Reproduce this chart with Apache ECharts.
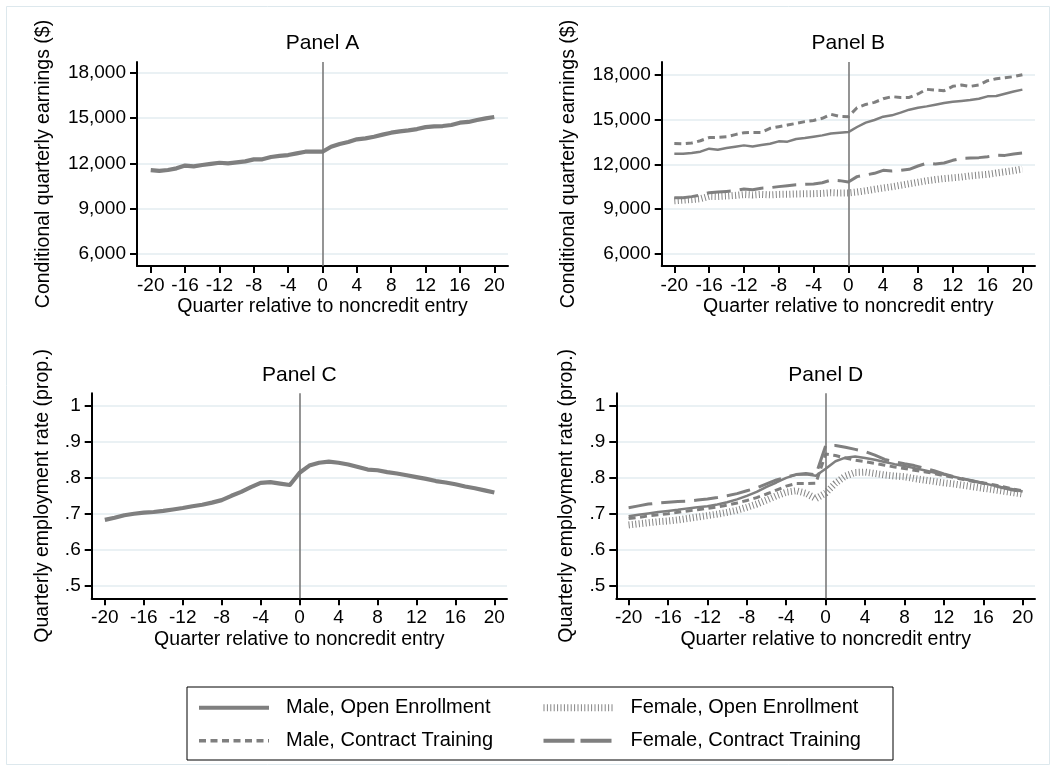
<!DOCTYPE html>
<html><head><meta charset="utf-8">
<script src="https://cdn.jsdelivr.net/npm/echarts@6/dist/echarts.min.js"></script>
<style>html,body{margin:0;padding:0;background:#fff}#c{width:1056px;height:771px}</style>
</head><body><div id="c"></div>
<script>
// ---------- data ----------
const quarters = [-20,-19,-18,-17,-16,-15,-14,-13,-12,-11,-10,-9,-8,-7,-6,-5,-4,-3,-2,-1,0,1,2,3,4,5,6,7,8,9,10,11,12,13,14,15,16,17,18,19,20];
const xTicks = [-20,-16,-12,-8,-4,0,4,8,12,16,20];
const earnTicks = [6000,9000,12000,15000,18000];
const empTicks = [0.5,0.6,0.7,0.8,0.9,1];
const seriesNames = ['Male, Open Enrollment','Male, Contract Training','Female, Open Enrollment','Female, Contract Training'];
const panelTitles = ['Panel A','Panel B','Panel C','Panel D'];

// Panel A: conditional quarterly earnings, all
const earnAll = [11550,11500,11560,11670,11850,11800,11890,11960,12040,12000,12070,12130,12265,12265,12420,12490,12550,12660,12770,12770,12770,
  13100,13280,13410,13590,13650,13760,13900,14030,14120,14180,14270,14400,14450,14470,14540,14690,14740,14870,14980,15070];
// Panel B
const earnMaleOpen = [12714,12714,12760,12850,13050,12980,13090,13180,13270,13200,13290,13380,13540,13520,13700,13760,13850,13940,14070,14120,14160,
  14500,14790,14970,15190,15280,15460,15660,15790,15880,15990,16100,16190,16240,16300,16390,16550,16570,16730,16880,17000];
const earnMaleContract = [13400,13380,13430,13580,13790,13810,13850,13990,14120,14140,14140,14410,14520,14630,14740,14860,14940,15080,15350,15210,15190,
  15790,16010,16150,16390,16530,16480,16480,16710,17020,16970,16930,17220,17310,17220,17310,17600,17730,17800,17870,18000];
const earnFemaleOpen = [9560,9600,9640,9700,9860,9850,9880,9920,9980,9950,9990,9960,9990,10000,10020,10030,10040,10060,10100,10080,10090,
  10150,10230,10330,10420,10500,10600,10700,10800,10900,10980,11050,11100,11150,11230,11280,11330,11420,11500,11580,11680];
const earnFemaleContract = [9770,9770,9840,9950,10100,10150,10190,10240,10350,10300,10400,10440,10510,10570,10640,10660,10680,10770,10950,10910,10820,
  11180,11290,11400,11600,11560,11600,11670,11890,12070,12020,12090,12270,12400,12420,12450,12510,12620,12600,12690,12760];
// Panel C: employment rate, all
const empAll = [0.683,0.689,0.696,0.700,0.703,0.705,0.708,0.712,0.716,0.721,0.725,0.731,0.738,0.750,0.761,0.774,0.786,0.788,0.784,0.780,0.814,
  0.834,0.842,0.845,0.842,0.837,0.830,0.823,0.821,0.816,0.812,0.807,0.802,0.797,0.791,0.787,0.782,0.776,0.771,0.765,0.759];
// Panel D
const empMaleOpen = [0.693,0.697,0.701,0.705,0.708,0.711,0.715,0.718,0.721,0.726,0.732,0.740,0.750,0.761,0.775,0.787,0.800,0.809,0.810,0.806,0.825,
  0.846,0.856,0.859,0.855,0.850,0.844,0.838,0.833,0.827,0.821,0.815,0.809,0.803,0.797,0.791,0.785,0.779,0.773,0.768,0.762];
const empMaleContract = [0.687,0.690,0.694,0.697,0.700,0.704,0.708,0.711,0.715,0.719,0.724,0.730,0.737,0.745,0.755,0.766,0.777,0.784,0.784,0.785,0.866,
  0.862,0.855,0.849,0.845,0.840,0.835,0.830,0.826,0.821,0.817,0.812,0.806,0.801,0.795,0.790,0.786,0.781,0.775,0.769,0.764];
const empFemaleOpen = [0.669,0.672,0.675,0.678,0.680,0.683,0.687,0.691,0.695,0.699,0.704,0.710,0.718,0.727,0.738,0.750,0.760,0.764,0.757,0.742,0.758,
  0.785,0.805,0.815,0.816,0.812,0.808,0.805,0.803,0.798,0.794,0.790,0.786,0.783,0.779,0.775,0.771,0.767,0.763,0.759,0.755];
const empFemaleContract = [0.717,0.722,0.727,0.730,0.732,0.734,0.735,0.738,0.741,0.745,0.750,0.756,0.764,0.772,0.783,0.794,0.802,0.809,0.812,0.808,0.889,
  0.890,0.885,0.879,0.873,0.863,0.851,0.845,0.839,0.834,0.827,0.820,0.811,0.803,0.797,0.791,0.785,0.779,0.772,0.766,0.761];

// ---------- styles ----------
const FONT = '"Liberation Sans", Arial, Helvetica, sans-serif';
const GRAY = '#7f7f7f';
const styles = {
  all:      {color: GRAY, width: 4.2, type: 'solid'},
  maleOpen: {color: GRAY, width: 2.5, type: 'solid'},
  maleCon:  {color: GRAY, width: 3, type: [7, 4.5], cap: 'butt'},
  femOpen:  {color: '#858585', width: 7, type: [1, 2.4], cap: 'butt'},
  femCon:   {color: GRAY, width: 3, type: [24, 9], cap: 'butt'}
};

const grids = [
  {left: 137,   top: 62,    width: 371, height: 204},
  {left: 661.7, top: 62,    width: 373.3, height: 204},
  {left: 91.7,  top: 393.3, width: 415.3, height: 205},
  {left: 616.3, top: 393.3, width: 418.7, height: 205}
];
const xRanges = [[-21.6, 21.6], [-21.45, 21.45], [-21.35, 21.3], [-21.25, 21.25]];
const yRanges = [[5206, 18708], [5197, 18850], [0.465, 1.035], [0.465, 1.035]];
const yNames = ['Conditional quarterly earnings ($)','Conditional quarterly earnings ($)','Quarterly employment rate (prop.)','Quarterly employment rate (prop.)'];
const yNameGaps = [83, 83, 39, 40];
const xName = 'Quarter relative to noncredit entry';

function fmtEarn(v){ return Math.round(v).toLocaleString('en-US'); }
function fmtEmp(v){ return v === 1 ? '1' : String(v).replace(/^0/, ''); }

const xAxes = grids.map((g, i) => ({
  type: 'value', gridIndex: i, min: xRanges[i][0], max: xRanges[i][1],
  name: xName, nameLocation: 'middle', nameGap: 31,
  nameTextStyle: {fontSize: 19.5, color: '#000', fontFamily: FONT},
  axisLine: {show: true, onZero: false, lineStyle: {color: '#000', width: 2}},
  axisTick: {show: true, length: 7, lineStyle: {color: '#000', width: 2}, customValues: xTicks},
  axisLabel: {show: true, margin: 10, fontSize: 19, color: '#000', fontFamily: FONT, customValues: xTicks,
              showMinLabel: true, showMaxLabel: true, hideOverlap: false},
  splitLine: {show: false}
}));
const yAxes = grids.map((g, i) => {
  const ticks = i < 2 ? earnTicks : empTicks;
  return {
    type: 'value', gridIndex: i, min: yRanges[i][0], max: yRanges[i][1],
    name: yNames[i], nameLocation: 'middle', nameGap: yNameGaps[i], nameRotate: 90,
    nameTextStyle: {fontSize: 19.5, color: '#000', fontFamily: FONT},
    axisLine: {show: true, onZero: false, lineStyle: {color: '#000', width: 2}},
    axisTick: {show: true, length: 7, lineStyle: {color: '#000', width: 2}, customValues: ticks},
    axisLabel: {show: true, margin: 11, fontSize: 19, color: '#000', fontFamily: FONT, customValues: ticks,
                formatter: i < 2 ? fmtEarn : fmtEmp, showMinLabel: true, showMaxLabel: true, hideOverlap: false},
    splitLine: {show: true, lineStyle: {color: '#e3edf1', width: 1.5}}
  };
});

function pairs(arr){ return quarters.map((q, k) => [q, arr[k]]); }
const zeroLine = {silent: true, symbol: ['none','none'], label: {show: false},
  lineStyle: {color: '#7a7a7a', width: 1.6, type: 'solid'}, emphasis: {disabled: true}, data: [{xAxis: 0}]};
function line(name, gi, arr, st, withZero){
  const s = {type: 'line', name, xAxisIndex: gi, yAxisIndex: gi, data: pairs(arr),
    symbol: 'none', showSymbol: false, silent: true, animation: false,
    lineStyle: {color: st.color, width: st.width, type: st.type, cap: st.cap || 'butt', join: 'round'},
    itemStyle: {color: st.color}, emphasis: {disabled: true}};
  if (withZero) s.markLine = zeroLine;
  return s;
}

const series = [
  line('Male, Open Enrollment', 1, earnMaleOpen, styles.maleOpen, true),
  line('Male, Contract Training', 1, earnMaleContract, styles.maleCon),
  line('Female, Open Enrollment', 1, earnFemaleOpen, styles.femOpen),
  line('Female, Contract Training', 1, earnFemaleContract, styles.femCon),
  line('All (earnings)', 0, earnAll, styles.all, true),
  line('All (employment)', 2, empAll, styles.all, true),
  line('Male, Open Enrollment', 3, empMaleOpen, styles.maleOpen, true),
  line('Male, Contract Training', 3, empMaleContract, styles.maleCon),
  line('Female, Open Enrollment', 3, empFemaleOpen, styles.femOpen),
  line('Female, Contract Training', 3, empFemaleContract, styles.femCon)
];

const legendBase = {
  orient: 'vertical', top: 697.7, padding: 0, itemWidth: 70, itemHeight: 20, itemGap: 13,
  selectedMode: false, itemStyle: {opacity: 0}, lineStyle: {width: 'inherit'},
  textStyle: {fontSize: 20, color: '#000', fontFamily: FONT, padding: [0, 0, 0, 12]}
};
const legends = [
  Object.assign({}, legendBase, {left: 197, data: [
    {name: seriesNames[0], lineStyle: {width: 4}},
    {name: seriesNames[1], lineStyle: {width: 3.5}}]}),
  Object.assign({}, legendBase, {left: 540, data: [
    {name: seriesNames[2], lineStyle: {width: 7}},
    {name: seriesNames[3], lineStyle: {width: 4, type: [31, 6]}}]})
];

const titleCenters = [[322.5, 43], [848.3, 43.3], [299.3, 375], [825.7, 375]];
const graphics = [
  {type: 'rect', silent: true, z: -10, shape: {x: 6.5, y: 6.5, width: 1043, height: 758},
   style: {fill: 'none', stroke: '#dde8ed', lineWidth: 1}},
  {type: 'rect', silent: true, shape: {x: 187, y: 687, width: 706, height: 73},
   style: {fill: 'none', stroke: '#000', lineWidth: 1}}
].concat(panelTitles.map((t, i) => ({
  type: 'text', silent: true, x: titleCenters[i][0], y: titleCenters[i][1],
  style: {text: t, fill: '#000', font: '21px ' + FONT, align: 'center', verticalAlign: 'middle'}
})));

const chart = echarts.init(document.getElementById('c'), null, {renderer: 'canvas'});
chart.setOption({
  backgroundColor: '#ffffff',
  animation: false,
  grid: grids.map(g => Object.assign({containLabel: false, outerBoundsMode: 'none'}, g)),
  xAxis: xAxes,
  yAxis: yAxes,
  legend: legends,
  series: series,
  graphic: graphics
});
</script>
</body></html>
